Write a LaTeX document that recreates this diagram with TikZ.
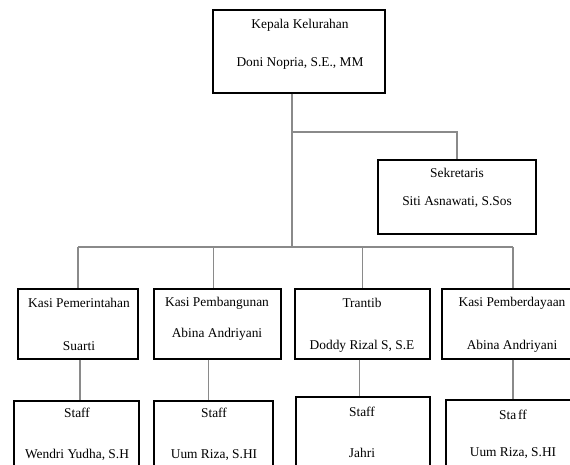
\documentclass[tikz,border=0pt]{standalone}
\usepackage{fontspec}
\setmainfont{Liberation Serif}
\usepackage{tikz}
\usetikzlibrary{positioning}

\definecolor{linegray}{HTML}{8A8A8A}

\begin{document}
\begin{tikzpicture}[x=1pt,y=-1pt,
	box/.style={draw=black, line width=1.4pt, inner sep=0pt, fill=white},
	txt/.style={inner sep=0pt, font=\fontsize{13.4}{16}\selectfont},
	conn/.style={draw=linegray, line width=1.2pt}]
	\clip (0,0) rectangle (570,465);
	\fill[white] (0,0) rectangle (570,465);
	%
	\coordinate (jsek) at (292,132);
	\coordinate (jbar) at (292,247);
	%
	\node [box, minimum width=172pt, minimum height=83pt] (kepala) at (299,51.5) {};
	\node [box, minimum width=158pt, minimum height=74pt] (sek) at (457,197) {};
	\node [box, minimum width=120pt, minimum height=70pt] (kpem) at (78,324) {};
	\node [box, minimum width=127pt, minimum height=70pt] (kbang) at (217.5,324) {};
	\node [box, minimum width=135pt, minimum height=70pt] (trantib) at (362.5,324) {};
	\node [box, minimum width=142pt, minimum height=70pt] (kdaya) at (513,324) {};
	\node [box, minimum width=125pt, minimum height=79pt] (spem) at (76.5,440.5) {};
	\node [box, minimum width=119pt, minimum height=79pt] (sbang) at (213.5,440.5) {};
	\node [box, minimum width=134pt, minimum height=83pt] (strantib) at (363,438.5) {};
	\node [box, minimum width=134pt, minimum height=80pt] (sdaya) at (513,440) {};
	%
	\node [txt] (kepalaA) at (300,25) {Kepala Kelurahan};
	\node [txt] (kepalaB) at (300,63) {Doni Nopria, S.E., MM};
	\node [txt] (sekA) at (457,173) {Sekretaris};
	\node [txt] (sekB) at (457,202) {Siti Asnawati, S.Sos};
	\node [txt] (kpemA) at (79,303) {Kasi Pemerintahan};
	\node [txt] (kpemB) at (79,346) {Suarti};
	\node [txt] (kbangA) at (217,303) {Kasi Pembangunan};
	\node [txt] (kbangB) at (217,334) {Abina Andriyani};
	\node [txt] (trantibA) at (362,303) {Trantib};
	\node [txt] (trantibB) at (362,346) {Doddy Rizal S, S.E};
	\node [txt] (kdayaA) at (512,303) {Kasi Pemberdayaan};
	\node [txt] (kdayaB) at (512,346) {Abina Andriyani};
	\node [txt] (spemA) at (77,413) {Staff};
	\node [txt] (spemB) at (77,455) {Wendri Yudha, S.H};
	\node [txt] (sbangA) at (214,413) {Staff};
	\node [txt] (sbangB) at (214,455) {Uum Riza, S.HI};
	\node [txt] (strantibA) at (362,412) {Staff};
	\node [txt] (strantibB) at (362,453) {Jahri};
	\node [txt] (sdayaA) at (513,415) {Sta\hspace{2pt}ff};
	\node [txt] (sdayaB) at (513,453) {Uum Riza, S.HI};
	%
	\draw [conn] (kepala.south -| jbar) -- (jbar);
	\draw [conn] (jsek) -| (sek.north);
	\draw [conn] (kpem.north |- jbar) -- (kdaya.north |- jbar);
	\draw [conn] (kpem.north |- jbar) -- (kpem.north);
	\draw [conn] ([xshift=-4pt]kbang.north |- jbar) -- ([xshift=-4pt]kbang.north);
	\draw [conn] (trantib.north |- jbar) -- (trantib.north);
	\draw [conn] (kdaya.north |- jbar) -- (kdaya.north);
	%
	\draw [conn] ([xshift=2pt]kpem.south) -- ([xshift=2pt]kpem.south |- spem.north);
	\draw [conn] ([xshift=-9pt]kbang.south) -- ([xshift=-9pt]kbang.south |- sbang.north);
	\draw [conn] ([xshift=-3pt]trantib.south) -- ([xshift=-3pt]trantib.south |- strantib.north);
	\draw [conn] (kdaya.south) -- (sdaya.north);
\end{tikzpicture}
\end{document}
